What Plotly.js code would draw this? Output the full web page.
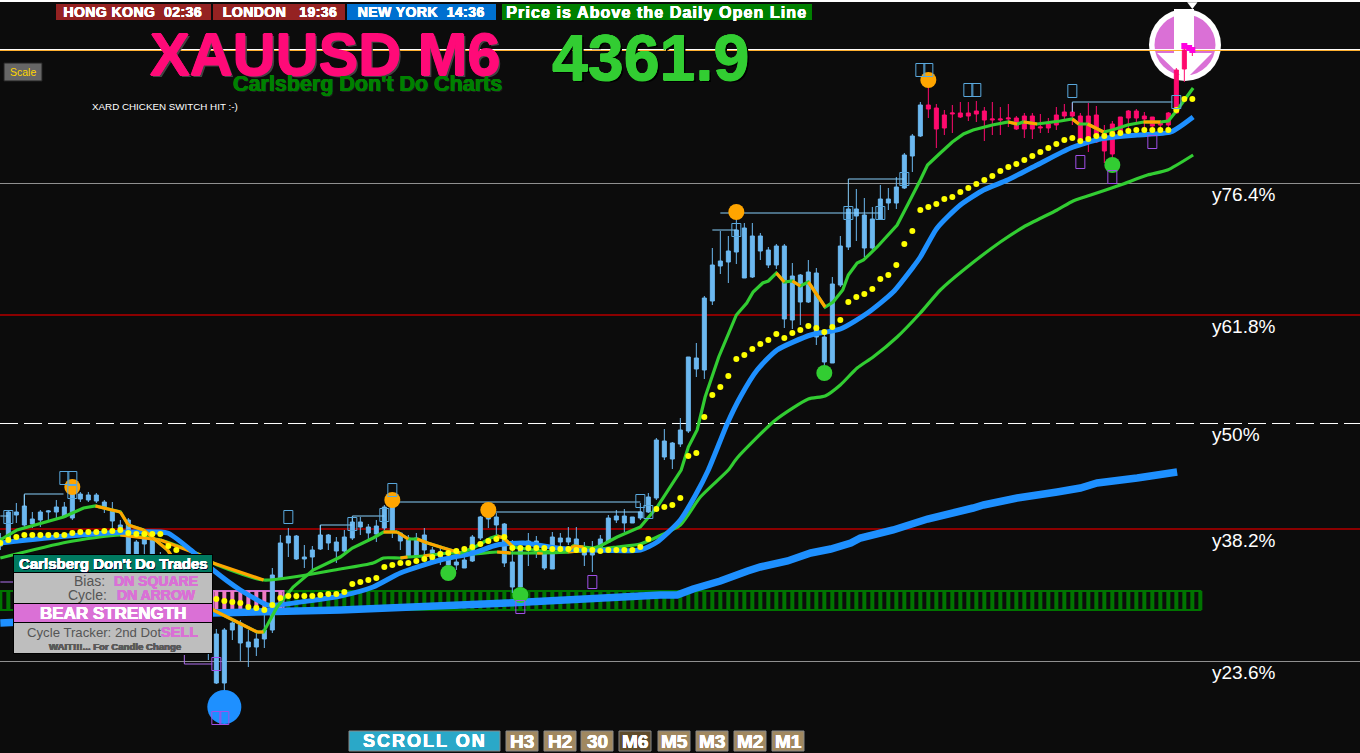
<!DOCTYPE html>
<html><head><meta charset="utf-8">
<script src="https://cdn.plot.ly/plotly-3.0.1.min.js"></script>
<style>html,body{margin:0;padding:0;background:#0c0c0c;overflow:hidden}#c{width:1360px;height:753px}</style>
</head><body><div id="c"></div>
<script>
// Candles, one value per bar (bar 0..149)
const open=[4312.3,4313.1,4315.4,4314.4,4314.5,4314.9,4315.7,4315.7,4315.2,4315.1,4317.0,4316.9,4316.8,4316.1,4314.8,4313.9,4311.4,4311.4,4312.5,4310.9,4309.4,4307.9,4306.9,4304.9,4303.9,4302.4,4301.9,4298.6,4298.6,4303.9,4302.6,4302.2,4302.2,4303.0,4303.9,4309.1,4312.6,4311.0,4311.0,4311.2,4312.0,4312.6,4311.8,4311.8,4313.1,4314.2,4313.6,4313.5,4314.1,4313.7,4312.8,4311.2,4311.2,4311.9,4310.8,4311.2,4310.4,4310.4,4310.1,4310.8,4313.1,4315.0,4314.4,4310.6,4308.2,4308.2,4311.9,4311.6,4310.1,4310.0,4312.7,4312.7,4311.9,4311.4,4311.4,4311.9,4312.7,4314.9,4314.6,4314.6,4315.1,4315.7,4317.1,4321.2,4321.0,4322.5,4323.8,4330.0,4329.9,4336.8,4340.3,4340.7,4341.7,4339.1,4339.2,4341.8,4340.4,4340.4,4335.0,4334.9,4336.7,4336.7,4333.2,4330.7,4330.6,4338.4,4342.2,4345.3,4342.1,4342.1,4345.0,4346.6,4346.6,4348.1,4351.3,4353.3,4356.0,4354.0,4354.1,4355.5,4355.2,4355.3,4355.5,4354.9,4354.9,4354.9,4355.0,4354.0,4354.0,4354.0,4354.1,4354.1,4354.4,4355.3,4355.3,4352.7,4352.7,4352.7,4351.8,4351.5,4353.8,4355.1,4355.1,4355.0,4354.3,4354.4,4354.4,4355.6,4360.0,4361.7];
const high=[4313.6,4315.9,4316.6,4317.4,4315.7,4315.9,4315.9,4316.9,4316.7,4318.4,4317.7,4317.7,4317.6,4316.9,4316.7,4314.9,4315.1,4312.9,4313.7,4313.3,4311.7,4310.1,4308.7,4307.7,4305.7,4304.7,4303.3,4304.0,4304.1,4304.9,4304.9,4303.9,4303.6,4306.6,4310.1,4313.4,4314.1,4313.4,4312.4,4312.3,4314.4,4313.5,4313.2,4313.9,4315.1,4315.2,4314.5,4314.9,4316.4,4317.4,4313.7,4313.4,4313.6,4314.1,4312.2,4312.1,4311.2,4311.6,4311.6,4313.4,4315.3,4315.9,4315.6,4314.6,4312.9,4312.1,4313.6,4313.3,4312.2,4313.7,4313.6,4314.2,4314.2,4312.7,4312.8,4313.4,4315.4,4315.9,4316.0,4315.2,4316.6,4317.6,4323.1,4324.0,4322.7,4325.1,4331.2,4332.6,4337.3,4342.1,4343.8,4343.3,4345.6,4344.6,4344.6,4343.6,4342.2,4342.5,4342.5,4340.6,4339.5,4340.9,4340.1,4333.9,4339.2,4343.3,4346.2,4348.0,4347.1,4346.2,4348.4,4348.1,4349.2,4351.6,4353.5,4356.7,4358.9,4356.5,4355.9,4356.4,4356.7,4356.7,4356.8,4356.2,4356.7,4356.2,4356.5,4355.3,4355.6,4355.6,4355.5,4355.1,4356.2,4356.5,4356.6,4355.6,4356.6,4356.3,4354.4,4354.8,4355.2,4355.9,4356.0,4355.7,4355.2,4354.9,4355.7,4360.1,4362.4,4362.2];
const low=[4311.9,4312.9,4314.6,4314.2,4314.1,4314.2,4314.7,4315.1,4315.1,4314.9,4316.7,4316.7,4316.6,4315.6,4314.1,4313.4,4311.2,4311.1,4311.3,4310.4,4309.1,4307.6,4306.5,4304.5,4303.4,4301.9,4300.9,4298.5,4296.1,4302.9,4300.8,4300.2,4301.3,4302.1,4303.6,4308.9,4311.2,4310.9,4310.1,4309.9,4311.9,4311.9,4310.6,4311.6,4312.9,4313.4,4312.9,4312.7,4313.9,4313.1,4311.9,4311.1,4311.1,4311.1,4310.6,4310.4,4309.4,4309.9,4310.1,4310.7,4312.9,4314.1,4313.1,4310.2,4307.6,4307.2,4310.3,4311.1,4309.9,4310.0,4312.2,4312.4,4311.7,4310.3,4309.7,4311.7,4312.6,4314.6,4313.7,4314.6,4314.9,4315.6,4316.9,4320.9,4320.0,4322.2,4323.6,4329.2,4329.0,4336.4,4339.5,4338.6,4340.5,4339.1,4339.1,4340.9,4340.1,4340.0,4334.1,4334.0,4334.4,4336.6,4332.4,4329.4,4330.6,4338.2,4341.9,4342.8,4341.2,4341.9,4344.9,4345.9,4346.0,4348.0,4349.7,4353.2,4355.1,4352.1,4353.4,4353.6,4355.1,4354.8,4354.7,4352.8,4353.4,4353.4,4354.2,4353.9,4353.1,4353.0,4353.6,4353.6,4353.9,4354.9,4354.4,4352.4,4351.7,4352.6,4350.6,4350.2,4353.7,4354.1,4354.7,4354.1,4353.6,4354.1,4354.2,4355.5,4358.7,4361.3];
const close=[4313.1,4315.7,4315.7,4316.3,4315.0,4315.7,4315.8,4316.2,4316.2,4317.9,4317.5,4317.4,4317.4,4316.7,4315.9,4314.4,4314.9,4312.7,4313.4,4312.9,4311.4,4309.9,4308.4,4307.4,4305.4,4304.4,4302.9,4303.5,4303.9,4304.6,4304.6,4302.7,4303.0,4303.9,4309.4,4312.6,4313.3,4313.3,4311.2,4311.9,4313.4,4313.4,4312.7,4313.2,4314.7,4314.7,4314.2,4314.3,4316.2,4317.2,4313.6,4313.1,4313.1,4313.4,4311.9,4311.7,4310.9,4310.7,4310.9,4313.2,4315.2,4315.4,4315.2,4314.5,4310.7,4311.9,4312.8,4312.8,4312.1,4313.2,4313.1,4313.1,4313.0,4311.7,4311.9,4313.0,4315.1,4315.3,4315.3,4315.2,4315.7,4317.2,4322.9,4322.8,4322.6,4323.9,4331.2,4331.1,4337.1,4340.4,4340.8,4341.8,4343.9,4344.1,4343.3,4343.3,4341.9,4342.3,4342.3,4339.3,4339.4,4339.7,4339.6,4333.2,4338.5,4342.3,4346.0,4346.0,4345.4,4345.0,4347.0,4347.0,4348.2,4351.4,4353.3,4356.4,4356.4,4356.1,4355.4,4355.6,4355.6,4355.6,4355.8,4355.8,4355.0,4355.0,4355.1,4355.1,4355.3,4355.3,4354.2,4354.5,4355.4,4355.7,4355.7,4355.3,4355.3,4355.4,4353.6,4354.5,4355.2,4355.8,4355.8,4355.3,4355.2,4354.7,4355.6,4359.9,4361.9,4362.0];
const firstPinkBar=116;
// Yellow dots, one per bar
const dots=[4312.6,4312.9,4313.2,4313.4,4313.4,4313.4,4313.4,4313.4,4313.4,4313.6,4313.7,4313.7,4313.7,4313.8,4313.8,4313.9,4313.6,4313.5,4313.5,4313.5,4313.5,4312.3,4311.9,4310.9,4309.9,4308.9,4307.9,4307.0,4306.8,4306.7,4306.6,4306.2,4306.1,4305.9,4306.4,4307.1,4307.3,4307.3,4307.3,4307.3,4307.4,4307.5,4307.5,4307.7,4308.5,4308.7,4308.9,4309.1,4310.2,4310.4,4310.6,4310.6,4310.8,4311.0,4311.2,4311.5,4311.6,4311.8,4312.0,4312.2,4312.5,4312.8,4313.0,4313.2,4312.1,4312.1,4312.1,4312.1,4312.1,4312.0,4312.0,4312.0,4311.9,4311.9,4311.9,4311.8,4311.9,4311.9,4311.9,4311.9,4312.2,4313.0,4316.0,4316.2,4316.4,4317.1,4321.3,4321.6,4325.2,4327.4,4328.2,4329.3,4331.0,4331.4,4332.0,4332.5,4332.9,4333.5,4333.1,4333.6,4333.9,4334.3,4334.1,4333.7,4334.2,4334.9,4336.7,4337.2,4337.5,4338.0,4339.0,4339.4,4340.4,4342.5,4343.8,4345.9,4346.2,4346.5,4347.0,4347.2,4347.7,4348.1,4348.5,4348.9,4349.3,4349.8,4350.2,4350.5,4350.9,4351.3,4351.7,4352.1,4352.5,4352.9,4353.1,4352.8,4353.0,4353.3,4353.3,4353.5,4353.6,4353.8,4353.9,4353.9,4353.9,4353.9,4353.9,4355.9,4357.0,4357.0];
// Fast average; fastOrange = 1 where the stretch starting at that point is orange
const fastBar=[0,2.1,7.9,10.4,11.9,15,16,17.9,20.9,23.8,26.6,29.1,32.1,32.9,34.6,36.6,39.1,42.5,44,46.6,47.9,49.6,51,52.1,53.4,55.4,57.5,59.1,61.3,62.1,62.9,64.1,66.6,69.1,70.9,71.6,72.9,74.1,75,77.1,80,82.1,85.1,86,87.1,88.1,89.8,92,93.3,94.1,95.3,96,97,98,99,100,101,103.1,104.1,105.3,106,107.1,107.9,109.6,112.1,113.4,115,115.9,117.5,119,120.4,121.6,124,126,127.1,127.9,129.6,132.5,134,134.8,135.9,137.9,139,140.9,142.9,145,146,147.1,149.1];
const fastVal=[4312.9,4313.9,4315.2,4316.1,4316.3,4315.7,4314.4,4313.9,4311.9,4308.4,4305.9,4304.9,4303.7,4303.7,4306.2,4308.2,4309.9,4311.2,4312.1,4313.1,4313.7,4313.7,4313.0,4313.0,4312.6,4312.1,4311.6,4312.1,4313.1,4313.3,4313.1,4312.2,4311.9,4311.7,4311.7,4312.3,4312.2,4312.1,4312.3,4313.2,4314.2,4316.2,4319.9,4322.2,4323.9,4327.2,4331.2,4335.4,4336.6,4337.7,4338.6,4338.8,4339.6,4338.7,4338.8,4338.3,4338.7,4336.2,4336.7,4337.9,4339.4,4340.6,4340.9,4342.2,4344.4,4346.4,4348.9,4350.4,4351.6,4352.7,4353.5,4353.9,4354.4,4354.7,4354.5,4354.7,4354.5,4354.8,4355.0,4354.5,4354.5,4353.7,4353.9,4354.4,4354.7,4354.7,4354.8,4355.9,4358.1];
const fastOrange=[0,0,0,0,1,1,1,1,1,1,1,1,1,0,0,0,0,0,0,0,1,1,0,1,1,1,0,0,0,1,1,0,0,0,1,1,0,0,0,0,0,0,0,0,0,0,0,0,0,0,0,0,1,0,1,0,1,0,0,0,0,0,0,0,0,0,0,0,0,0,0,0,0,1,0,1,0,0,1,0,1,0,0,0,1,0,0,0,0];
// Slower green average
const slowBar=[0,8.4,15,20,25,26.6,32.9,42.5,46.6,47.9,50,50.9,52.9,53.8,56.3,59.1,62.1,63.8,67.1,67.8,70.9,74.1,77.1,80,82.1,85,87.5,91,92.1,96.9,101,103.1,105,107.1,109.1,112.1,115,117.5,120.4,125,127.9,132.1,134.1,136.3,140,143.4,145.9,149.1];
const slowVal=[4311.1,4312.7,4313.4,4312.9,4311.4,4310.6,4308.9,4310.0,4310.6,4311.1,4311.1,4311.2,4311.3,4311.4,4311.6,4311.5,4311.7,4311.6,4311.6,4311.6,4311.7,4311.9,4312.2,4312.5,4313.2,4314.4,4317.2,4319.9,4321.1,4324.9,4327.0,4327.3,4328.4,4330.1,4331.2,4333.2,4335.6,4337.9,4339.9,4342.7,4344.2,4345.9,4346.8,4347.4,4348.4,4349.4,4349.9,4351.4];
const slowOrange=[0,0,1,1,1,1,0,0,0,0,1,0,1,0,0,0,1,0,1,0,1,0,0,0,0,0,0,0,0,0,0,0,0,0,0,0,0,0,0,0,0,0,0,0,0,0,0,0];
// Thick blue averages
const midBar=[0,8.4,15.9,20.9,23.8,26.6,30,33.4,34.6,42.5,46.6,50,55,59.1,62.1,65.4,69.6,73.8,80,82.1,85,86.9,88.5,90.9,92.5,94.6,97.1,101.3,105,108.4,111.6,114.1,115,117.1,120,122.9,125.9,129.6,133.8,137.5,142.1,146.3,149.1];
const midVal=[4312.6,4313.3,4313.7,4313.6,4311.9,4309.9,4307.9,4306.4,4306.4,4307.3,4308.2,4309.6,4310.9,4311.6,4312.4,4312.6,4312.1,4311.9,4311.9,4312.7,4314.9,4317.4,4319.9,4324.6,4327.2,4329.9,4331.9,4333.4,4334.0,4335.6,4337.7,4340.2,4341.2,4344.1,4346.4,4347.9,4348.9,4350.4,4352.1,4353.0,4353.4,4353.7,4355.2];
const longBar=[0,26.6,42.5,63.4,82.5,84.6,86.6,90,93.4,95,98.4,101.3,103.8,106.3,107.5,111.6,115.9,121.6,122.9,127.1,132.1,135,137.1,142.1,147.1];
const longVal=[4304.6,4305.6,4305.9,4306.6,4307.4,4307.4,4308.0,4308.8,4309.8,4310.2,4310.8,4311.6,4312.0,4312.6,4313.1,4313.9,4315.0,4316.1,4316.4,4317.1,4317.7,4318.1,4318.6,4319.1,4319.7];
// Signal dots
const orangeBar=[9,49,61,92,116], orangeVal=[4318.2,4316.9,4315.9,4345.7,4358.9];
const greenBar=[56,65,103,139], greenVal=[4309.6,4307.4,4329.6,4350.4];
const blueBar=[28], blueVal=[4296.2];
const tipBar=[148,148.6,149], tipVal=[4362.3,4362.1,4361.9];
// Hollow box markers
const boxBlueBar=[8,9,9,1,36,49,44,48,80,81,92,106,110,113,115,116,121,122,134,147];
const boxBlueVal=[4319.1,4319.1,4317.7,4315.2,4315.2,4317.9,4314.5,4315.4,4316.8,4315.7,4343.9,4345.6,4345.6,4349.0,4359.9,4359.9,4357.9,4357.9,4357.8,4356.7];
const boxPurpleBar=[135,139,144,74,65,27,27,28];
const boxPurpleVal=[4350.7,4349.2,4352.7,4308.7,4306.2,4300.5,4295.1,4295.1];
// Thin swing lines
const swingBar=[3,3,7.9,null,0,1,null,40,40,44,null,44,44,48,null,49,80,null,61,61,80.2,null,89,92,null,90,110,null,106,106,113,null,134,134,146.5];
const swingVal=[4316.2,4317.5,4317.5,null,4315.3,4315.3,null,4313.4,4314.4,4314.4,null,4314.7,4315.3,4315.3,null,4316.7,4316.7,null,4315.4,4315.7,4315.7,null,4343.9,4343.9,null,4345.6,4345.6,null,4346.2,4349.0,4349.0,null,4355.7,4356.7,4356.7];
const swingPurpleBar=[23,23,26.5,null,0,1.6];
const swingPurpleVal=[4301.4,4300.5,4300.5,null,4308.7,4308.7];
// Strength strip: 1 green, -1 pink
const stripState=[1,1,-1,-1,-1,-1,-1,-1,-1,-1,-1,-1,-1,-1,-1,-1,-1,-1,-1,-1,-1,-1,-1,-1,-1,-1,-1,-1,-1,-1,-1,-1,-1,-1,-1,-1,1,1,1,1,1,1,1,1,1,1,1,1,1,1,1,1,1,1,1,1,1,1,1,1,1,1,1,1,1,1,1,1,1,1,1,1,1,1,1,1,1,1,1,1,1,1,1,1,1,1,1,1,1,1,1,1,1,1,1,1,1,1,1,1,1,1,1,1,1,1,1,1,1,1,1,1,1,1,1,1,1,1,1,1,1,1,1,1,1,1,1,1,1,1,1,1,1,1,1,1,1,1,1,1,1,1,1,1,1,1,1,1,1,1,1];
const stripTop=4307.8, stripBase=4305.9;
// Levels
const levelVal=[4348.55,4335.4,4324.55,4314.0,4300.75];
const levelLabel=['y76.4%','y61.8%','y50%','y38.2%','y23.6%'];
const lastPrice=4361.9;
// Text
const clocks=['HONG KONG  02:36','LONDON   19:36','NEW YORK  14:36'];
const tfButtons=['H3','H2','30','M6','M5','M3','M2','M1'];

const W=1360,H=753, F='"Liberation Sans",Arial,sans-serif';
const fx=p=>p/W, fy=p=>1-p/H;
const BW=8, BO=0.33, PPX=0.1, PTOP=4366.9;
const barW=4.5/BW, boxH=6.5*PPX;
const bars=open.map((_,i)=>i);
function segs(xs,ys,flags){const X=[],Y=[];flags.forEach((f,i)=>{if(f&&i<xs.length-1){X.push(xs[i],xs[i+1],null);Y.push(ys[i],ys[i+1],null);}});return [X,Y];}
const [foX,foY]=segs(fastBar,fastVal,fastOrange), [soX,soY]=segs(slowBar,slowVal,slowOrange);
const candle=(a,b,col)=>({type:'candlestick',x:bars.slice(a,b),open:open.slice(a,b),high:high.slice(a,b),low:low.slice(a,b),close:close.slice(a,b),
  increasing:{line:{color:col,width:1},fillcolor:col},decreasing:{line:{color:col,width:1},fillcolor:col},whiskerwidth:0,hoverinfo:'skip'});
const ln=(x,y,c,w,spl)=>({type:'scatter',mode:'lines',x,y,line:spl?{color:c,width:w,shape:'spline',smoothing:0.6}:{color:c,width:w,simplify:false},connectgaps:false,hoverinfo:'skip'});
const mk=(x,y,c,s,sym)=>({type:'scatter',mode:'markers',x,y,marker:{color:c,size:s,symbol:sym||'circle',line:{width:0}},hoverinfo:'skip'});
const stripX=stripState.map((_,i)=>i);
const traces=[
 {type:'bar',x:stripX,y:stripX.map(()=>stripTop-stripBase),base:stripBase,width:0.5,marker:{color:stripState.map(s=>s>0?'#007400':'#f07cc4'),line:{width:0}},hoverinfo:'skip'},
 candle(0,firstPinkBar,'#6cb8f0'),
 candle(firstPinkBar,bars.length,'#ff0a6e'),
 ln(longBar,longVal,'#1e90ff',7.5),
 ln(slowBar,slowVal,'#32cd32',3.2,true),
 ln(soX,soY,'#ffa500',3.2),
 ln(midBar,midVal,'#1e90ff',5,true),
 ln(fastBar,fastVal,'#32cd32',3.2),
 ln(foX,foY,'#ffa500',3.2),
 ln(swingBar,swingVal,'#87cefa',1),
 ln(swingPurpleBar,swingPurpleVal,'#b070f0',1),
 mk(bars,dots,'#ffff00',6),
 mk(orangeBar,orangeVal,'#ffa500',16),
 mk(greenBar,greenVal,'#32cd32',16),
 mk(blueBar,blueVal,'#1e90ff',34),
 mk(tipBar,tipVal,'#ff00e0',6,'square')
];
// ---------- shapes
const S=[];
const prect=(x0,y0,x1,y1,fill,lc,lw,layer)=>S.push({type:'rect',xref:'paper',yref:'paper',x0:fx(x0),x1:fx(x1),y0:fy(y1),y1:fy(y0),fillcolor:fill,line:{color:lc||fill,width:lw||0},layer:layer||'above'});
const pcircle=(cx,cy,r,fill)=>S.push({type:'circle',xref:'paper',yref:'paper',x0:fx(cx-r),x1:fx(cx+r),y0:fy(cy+r),y1:fy(cy-r),fillcolor:fill,line:{width:0},layer:'below'});
// strip outline below the candles
S.push({type:'rect',xref:'x',yref:'y',x0:-0.5,x1:150,y0:stripBase,y1:stripTop,fillcolor:'rgba(0,0,0,0)',line:{color:'#007400',width:2},layer:'below'});
S.push({type:'rect',xref:'x',yref:'y',x0:26.6,x1:35.4,y0:stripBase,y1:stripTop,fillcolor:'rgba(0,0,0,0)',line:{color:'#d070d0',width:2},layer:'below'});
// levels
const levelCol=['#909090','#8b0000','#ffffff','#8b0000','#909090'];
levelVal.forEach((v,i)=>S.push({type:'line',xref:'paper',yref:'y',x0:0,x1:1,y0:v,y1:v,line:{color:levelCol[i],width:i==1||i==3?2:1,dash:i==2?'18px,6px':'solid'},layer:'below'}));
// badge
pcircle(1185,45,36,'#ffffff'); pcircle(1185,45,30.5,'#da70d6');
S.push({type:'path',xref:'paper',yref:'paper',layer:'below',fillcolor:'#ffffff',line:{width:0},
 path:`M${fx(1174)},${fy(9)}L${fx(1194)},${fy(9)}L${fx(1194)},${fy(53)}L${fx(1212)},${fy(53)}L${fx(1185)},${fy(80)}L${fx(1157)},${fy(53)}L${fx(1174)},${fy(53)}Z`});
// price + top lines
S.push({type:'line',xref:'paper',yref:'y',x0:0,x1:1,y0:lastPrice+0.05,y1:lastPrice+0.05,line:{color:'#ffffff',width:1},layer:'below'});
S.push({type:'line',xref:'paper',yref:'y',x0:0,x1:1,y0:lastPrice-0.05,y1:lastPrice-0.05,line:{color:'#ffb030',width:1},layer:'below'});
S.push({type:'line',xref:'paper',yref:'paper',x0:0,x1:1,y0:fy(1),y1:fy(1),line:{color:'#ffffff',width:2},layer:'below'});
// hollow boxes
const box=(b,v,c)=>S.push({type:'rect',xref:'x',yref:'y',x0:b-barW,x1:b+barW,y0:v-boxH,y1:v+boxH,fillcolor:'rgba(0,0,0,0)',line:{color:c,width:1},layer:'above'});
boxBlueBar.forEach((b,i)=>box(b,boxBlueVal[i],'#5aa9de'));
boxPurpleBar.forEach((b,i)=>box(b,boxPurpleVal[i],'#a050e8'));
// header chips
prect(56,4,211,20,'#952222'); prect(213,4,345,20,'#952222'); prect(347,4,496,20,'#0070d0'); prect(502,4,812,20,'#008000');
// scale button
prect(4,63,42,81,'#666666','#222222',1);
// panel
prect(13,554,213,654,'#000000');
prect(14,555,212,572,'#007a60');
prect(14,573,212,603,'#bebebe');
prect(14,604,212,622,'#da70d6');
prect(14,623,212,653,'#bebebe');
// bottom buttons
prect(349,731,500,751,'#2aa8c8','#888888',1);
const btnL=[506,544,581,619,658,696,734,772];
btnL.forEach((x,i)=>prect(x,731,x+32,751,tfButtons[i]=='M6'?'#5e4c2c':'#a08860','#888888',1));
// ---------- text
const A=[];
const heavy=(c,w,extra)=>[`${w}px 0 0 ${c}`,`-${w}px 0 0 ${c}`,`0 ${w}px 0 ${c}`,`0 -${w}px 0 ${c}`].concat(extra?[extra]:[]).join(',');
const T=(text,x,y,size,color,o={})=>A.push({text,xref:'paper',yref:'paper',x:fx(x),y:fy(y),xanchor:o.a||'center',yanchor:'middle',showarrow:false,
  font:{family:F,size,color,weight:o.b?700:400,shadow:o.s||'none'},borderpad:0,borderwidth:0});
const chip=heavy('#ffffff',0.3);
T(clocks[0],133,12.5,14,'#ffffff',{b:1,s:chip});
T(clocks[1],279.5,12.5,14,'#ffffff',{b:1,s:chip});
T(clocks[2],421.5,12.5,14,'#ffffff',{b:1,s:chip});
T('Price is Above the Daily Open Line',657,12.5,16,'#ffffff',{b:1,s:chip});
T('XAUUSD M6',150,54,59.5,'#ff0a78',{a:'left',b:1,s:heavy('#ff0a78',0.7,'2px 2px 0 #444')});
T('Carlsberg Don\'t Do Charts',233,84,21.5,'#008000',{a:'left',b:1,s:heavy('#008000',0.4,'1px 1px 0 #222')});
T(String(lastPrice),552,58,64.5,'#32cd32',{a:'left',b:1,s:heavy('#32cd32',0.5,'2px 2px 0 #000')});
T('Scale',23,72,10.5,'#ffd700');
T('XARD CHICKEN SWITCH HIT :-)',92,107,9.8,'#ffffff',{a:'left'});
T('Carlsberg Don\'t Do Trades',113,563,15,'#ffffff',{b:1,s:heavy('#ffffff',0.3,'1px 1px 0 #003')});
T('Bias:',105,581,14,'#555555',{a:'right'});
T('DN SQUARE',156,581,14,'#da70d6',{b:1,s:heavy('#da70d6',0.3)});
T('Cycle:',107,595,14,'#555555',{a:'right'});
T('DN ARROW',156,595,14,'#da70d6',{b:1,s:heavy('#da70d6',0.3)});
T('BEAR STRENGTH',113,613,17,'#ffffff',{b:1,s:heavy('#ffffff',0.3)});
T('Cycle Tracker: 2nd Dot',27,632,13.2,'#555555',{a:'left'});
T('SELL',179,632,14.5,'#da70d6',{b:1,s:heavy('#da70d6',0.3)});
T('WAIT!!!... For Candle Change',115,646,9.6,'#5a5a5a',{b:1,s:heavy('#5a5a5a',0.4)});
T('SCROLL ON',425,741,18,'#ffffff',{b:1,s:heavy('#ffffff',0.3)});
tfButtons.forEach((t,i)=>T(t,btnL[i]+16,741,19,'#ffffff',{b:1,s:heavy('#ffffff',0.3)}));
levelVal.forEach((v,i)=>A.push({text:levelLabel[i],xref:'paper',yref:'y',x:fx(1210),y:v,yshift:-11,xanchor:'left',yanchor:'middle',showarrow:false,font:{family:F,size:19,color:'#ffffff'}}));
// small arrow over the badge
traces.push(mk([149],[PTOP-0.45],'#ffffff',9,'triangle-down'));

const layout={width:W,height:H,margin:{l:0,r:0,t:0,b:0,pad:0},paper_bgcolor:'#0c0c0c',plot_bgcolor:'#0c0c0c',showlegend:false,
 hovermode:false,boxgap:0.5,boxgroupgap:0,barmode:'overlay',boxmode:'overlay',
 xaxis:{range:[-BO/BW,(W-BO)/BW],visible:false,fixedrange:true,rangeslider:{visible:false},type:'linear'},
 yaxis:{range:[PTOP-H*PPX,PTOP],visible:false,fixedrange:true,type:'linear'},
 shapes:S,annotations:A};
const spacing={'Price is Above the Daily Open Line':1.1,'SCROLL ON':2};
clocks.forEach(c=>spacing[c]=0.45);
Plotly.newPlot('c',traces,layout,{staticPlot:true,displayModeBar:false}).then(()=>{
  document.querySelectorAll('#c .annotation-text').forEach(n=>{
    const s=spacing[n.textContent]; if(s) n.style.letterSpacing=s+'px';
  });
});
</script></body></html>
